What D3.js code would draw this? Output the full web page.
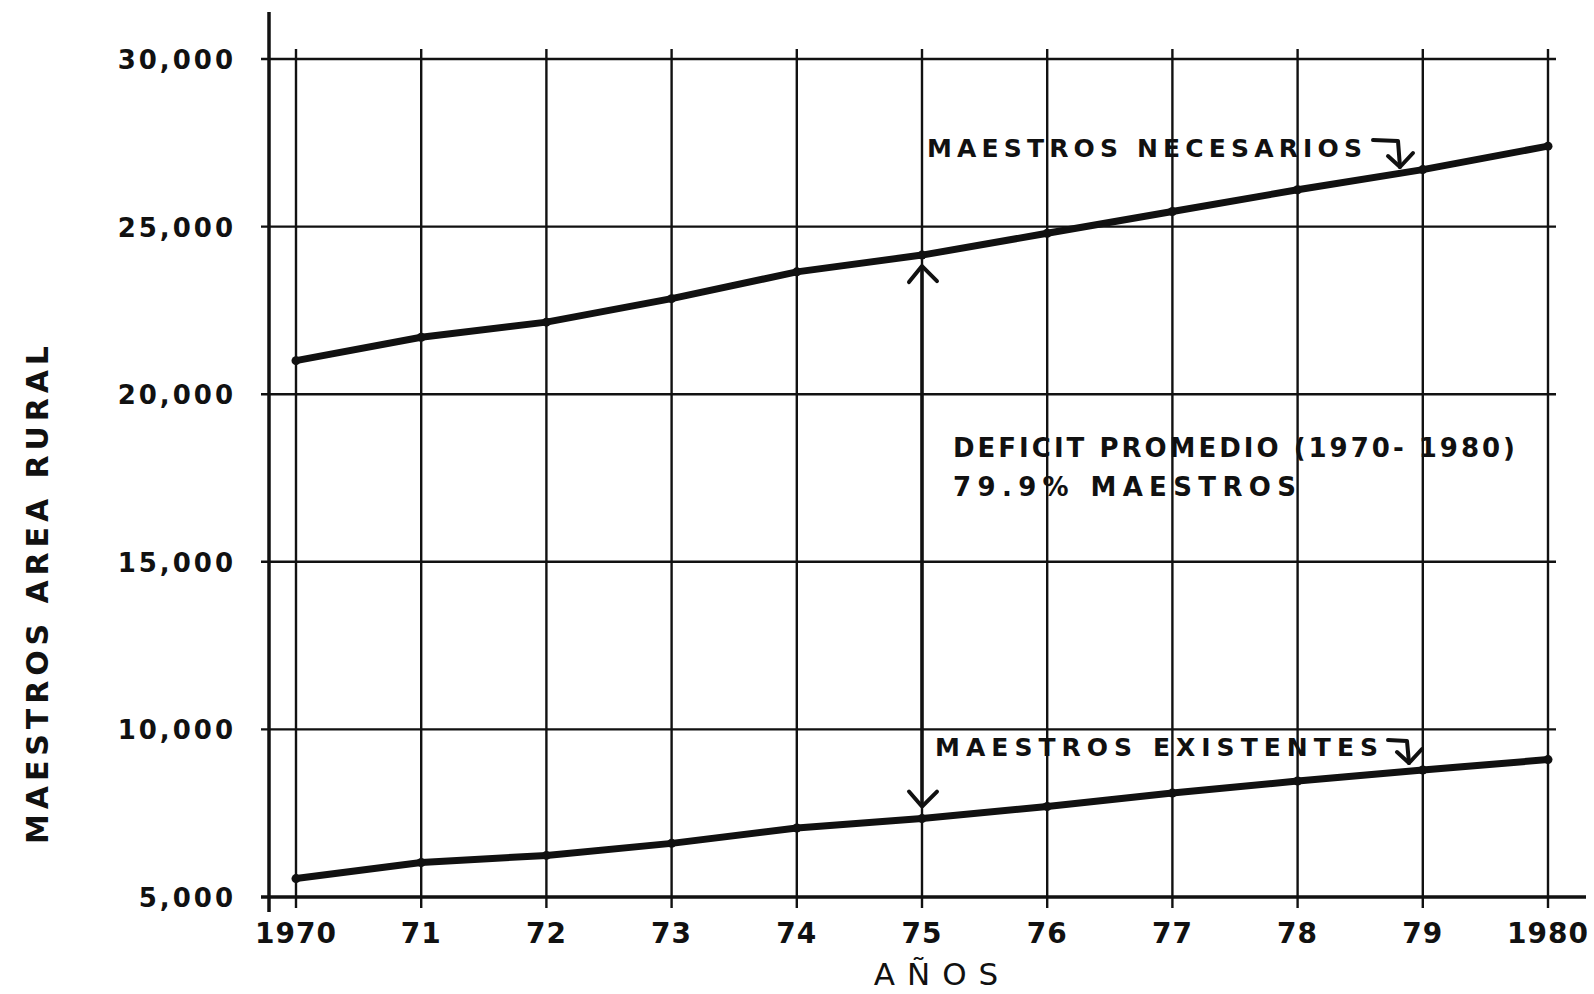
<!DOCTYPE html>
<html>
<head>
<meta charset="utf-8">
<script src="https://cdn.jsdelivr.net/npm/d3@7"></script>
<style>
  html, body { margin: 0; padding: 0; background: #fff; }
  svg text { font-family: "DejaVu Sans", sans-serif; fill: #111; }
</style>
</head>
<body>
<svg id="chart" width="1594" height="994"></svg>
<script>
// Años y valores
const years = [1970, 1971, 1972, 1973, 1974, 1975, 1976, 1977, 1978, 1979, 1980];
const yearLabels = ["1970", "71", "72", "73", "74", "75", "76", "77", "78", "79", "1980"];
const necesarios = [21000, 21700, 22150, 22850, 23650, 24150, 24800, 25450, 26100, 26700, 27400];
const existentes = [5550, 6030, 6240, 6600, 7060, 7340, 7700, 8100, 8460, 8790, 9100];
const yTicks = [5000, 10000, 15000, 20000, 25000, 30000];

const svg = d3.select("#chart");
const ink = "#111";

// Escalas
const x = d3.scaleLinear().domain([1970, 1980]).range([296, 1548]);
const y = d3.scaleLinear().domain([5000, 30000]).range([897, 59]);

// Rejilla horizontal
svg.append("g")
    .selectAll("line")
    .data(yTicks.filter(d => d !== 5000))
    .enter()
    .append("line")
    .attr("x1", 261)
    .attr("x2", 1556)
    .attr("y1", d => y(d))
    .attr("y2", d => y(d))
    .attr("stroke", ink)
    .attr("stroke-width", 2.4);

// Rejilla vertical
svg.append("g")
    .selectAll("line")
    .data(years)
    .enter()
    .append("line")
    .attr("x1", d => x(d))
    .attr("x2", d => x(d))
    .attr("y1", 49)
    .attr("y2", 908)
    .attr("stroke", ink)
    .attr("stroke-width", 2.4);

// Ejes
svg.append("line")
    .attr("x1", 269).attr("x2", 269)
    .attr("y1", 12).attr("y2", 912)
    .attr("stroke", ink)
    .attr("stroke-width", 3.5);

svg.append("line")
    .attr("x1", 261).attr("x2", 1586)
    .attr("y1", y(5000)).attr("y2", y(5000))
    .attr("stroke", ink)
    .attr("stroke-width", 3.5);

// Etiquetas eje Y
svg.append("g")
    .selectAll("text")
    .data(yTicks)
    .enter()
    .append("text")
    .attr("x", 236)
    .attr("y", d => y(d) + 10)
    .attr("text-anchor", "end")
    .style("font-size", "26px")
    .style("font-weight", "bold")
    .style("letter-spacing", "3px")
    .text(d => d3.format(",")(d));

// Etiquetas eje X
svg.append("g")
    .selectAll("text")
    .data(years)
    .enter()
    .append("text")
    .attr("x", d => x(d))
    .attr("y", 943)
    .attr("text-anchor", "middle")
    .style("font-size", "28px")
    .style("font-weight", "bold")
    .style("letter-spacing", "1px")
    .text((d, i) => yearLabels[i]);

// Títulos de ejes
svg.append("text")
    .attr("x", 942)
    .attr("y", 985)
    .attr("text-anchor", "middle")
    .style("font-size", "31px")
    .style("letter-spacing", "12px")
    .text("AÑOS");

svg.append("text")
    .attr("transform", "translate(48, 595) rotate(-90)")
    .attr("text-anchor", "middle")
    .attr("textLength", 498)
    .attr("lengthAdjust", "spacing")
    .style("font-size", "30px")
    .style("font-weight", "bold")
    .text("MAESTROS AREA RURAL");

// Líneas de datos
const line = d3.line()
    .x((d, i) => x(years[i]))
    .y(d => y(d));

[necesarios, existentes].forEach(serie => {
    svg.append("path")
        .datum(serie)
        .attr("d", line)
        .attr("fill", "none")
        .attr("stroke", ink)
        .attr("stroke-width", 7)
        .attr("stroke-linejoin", "round");

    svg.append("g")
        .selectAll("circle")
        .data(serie)
        .enter()
        .append("circle")
        .attr("cx", (d, i) => x(years[i]))
        .attr("cy", d => y(d))
        .attr("r", 4.5)
        .attr("fill", ink);
});

// Flecha doble del déficit (1975)
const ax = x(1975);
const aTop = y(necesarios[5]) + 11;
const aBot = y(existentes[5]) - 12;
svg.append("line")
    .attr("x1", ax).attr("x2", ax)
    .attr("y1", aTop).attr("y2", aBot)
    .attr("stroke", ink)
    .attr("stroke-width", 3.5);
svg.append("path")
    .attr("d", `M${ax - 13},${aTop + 16} L${ax},${aTop} L${ax + 15},${aTop + 15}`)
    .attr("fill", "none").attr("stroke", ink).attr("stroke-width", 4)
    .attr("stroke-linejoin", "round").attr("stroke-linecap", "round");
svg.append("path")
    .attr("d", `M${ax - 13},${aBot - 15} L${ax},${aBot} L${ax + 15},${aBot - 15}`)
    .attr("fill", "none").attr("stroke", ink).attr("stroke-width", 4)
    .attr("stroke-linejoin", "round").attr("stroke-linecap", "round");

// Anotaciones
function label(txt, lx, ly, len, size) {
    svg.append("text")
        .attr("x", lx)
        .attr("y", ly)
        .attr("textLength", len)
        .attr("lengthAdjust", "spacing")
        .style("font-size", size + "px")
        .style("font-weight", "bold")
        .text(txt);
}

label("MAESTROS NECESARIOS", 927, 157, 435, 25);
label("MAESTROS EXISTENTES", 935, 756, 443, 25);
label("DEFICIT PROMEDIO (1970- 1980)", 953, 457, 562, 26);
label("79.9% MAESTROS", 953, 496, 343, 26);

// Flechas en gancho hacia cada línea
function hookArrow(x0, yBar, xTip, yTip) {
    svg.append("path")
        .attr("d", `M${x0},${yBar} L${xTip - 2},${yBar + 1} L${xTip},${yTip}`)
        .attr("fill", "none").attr("stroke", ink).attr("stroke-width", 4)
        .attr("stroke-linejoin", "round").attr("stroke-linecap", "round");
    svg.append("path")
        .attr("d", `M${xTip - 12},${yTip - 11} L${xTip},${yTip} L${xTip + 13},${yTip - 14}`)
        .attr("fill", "none").attr("stroke", ink).attr("stroke-width", 4)
        .attr("stroke-linejoin", "round").attr("stroke-linecap", "round");
}

hookArrow(1373, 140, 1400, 167);
hookArrow(1388, 740, 1409, 763);
</script>
</body>
</html>
